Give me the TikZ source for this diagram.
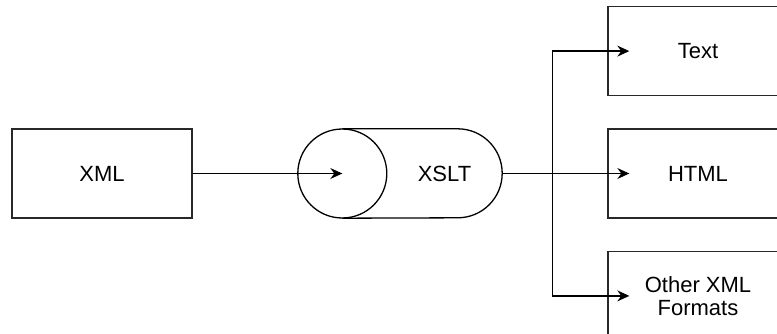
\documentclass[tikz,border=0pt]{standalone}
\usepackage{fontspec}
\setmainfont{Liberation Sans}
\usetikzlibrary{arrows.meta,positioning}
\definecolor{edge}{RGB}{40,40,40}

\begin{document}
\begin{tikzpicture}[x=1pt, y=1pt,
  every node/.style={font=\fontsize{22}{23.5}\selectfont},
  doc/.style={draw=edge, line width=1.4pt, minimum width=180pt, minimum height=89pt, align=center, inner sep=0pt},
  wire/.style={line width=1.3pt},
  flow/.style={wire, -{Stealth[length=12pt, width=11pt, inset=4pt]}},
  node distance=32pt
]
\useasboundingbox (0,0) rectangle (777,333);
\clip (0,0) rectangle (777,333);

\node[doc] (xml) at (102,159.5) {XML};
\node[minimum width=115pt, minimum height=89pt, inner sep=0pt] (xslt) at (444.5,159.5) {XSLT};
\node[doc] (html) at (698,159.5) {HTML};
\node[doc, above=of html] (text) {Text};
\node[doc, below=of html] (other) {Other XML\\Formats};

% cylinder round the XSLT label
\draw[wire] ([xshift=-44.5pt]xslt.west) circle[radius=44.5pt];
\draw[wire] ([xshift=-44.5pt]xslt.north west) -- ([xshift=-44.5pt]xslt.north east)
  arc[start angle=90, end angle=-90, radius=44.5pt] -- ([xshift=-44.5pt]xslt.south west);

\coordinate (split) at ([xshift=50pt]xslt.east);
\draw[flow] (xml) -- ([xshift=-44.5pt]xslt.west);
\draw[wire, line cap=rect] (split |- text) -- (split |- other);
\draw[flow] (xslt.east) -- ([xshift=22pt]html.west);
\foreach \t in {text, other}
  \draw[flow] (split |- \t) -- ([xshift=22pt]\t.west);
\end{tikzpicture}
\end{document}
